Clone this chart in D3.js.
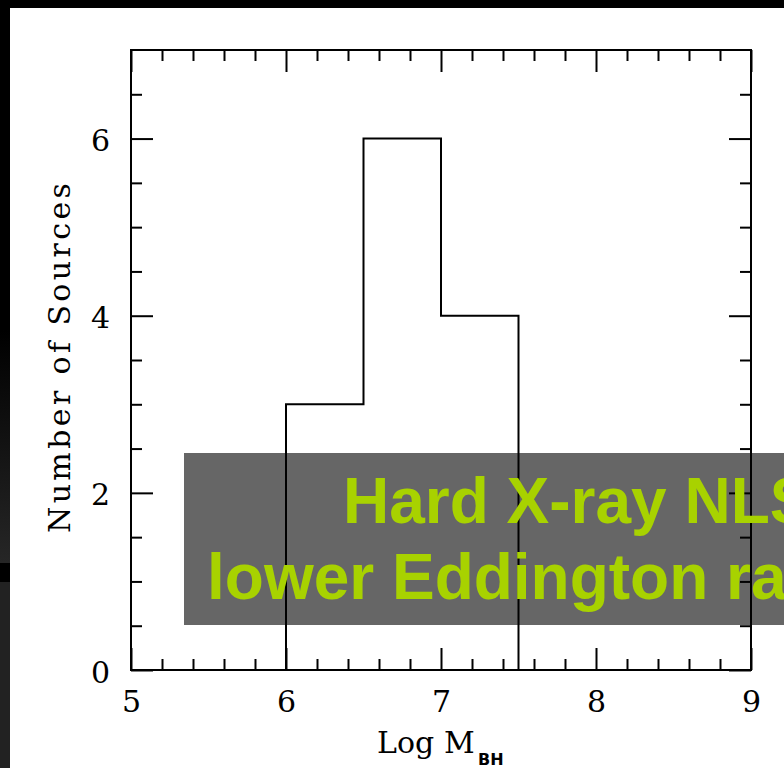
<!DOCTYPE html>
<html>
<head>
<meta charset="utf-8">
<script src="https://cdn.jsdelivr.net/npm/d3@7"></script>
<style>
  html, body { margin: 0; padding: 0; background: #000; }
  svg { display: block; }
</style>
</head>
<body>
<svg id="chart" width="784" height="768"></svg>
<script>
// Histogram of black-hole masses
const binStart = [6.0, 6.5, 7.0];
const binEnd   = [6.5, 7.0, 7.5];
const counts   = [3, 6, 4];

const xMajorTicks = [5, 6, 7, 8, 9];
const xMinorTicks = [5.2, 5.4, 5.6, 5.8, 6.2, 6.4, 6.6, 6.8, 7.2, 7.4, 7.6, 7.8, 8.2, 8.4, 8.6, 8.8];
const yMajorTicks = [0, 2, 4, 6];
const yMinorTicks = [0.5, 1, 1.5, 2.5, 3, 3.5, 4.5, 5, 5.5, 6.5];

const xTitle = "Log";
const xTitleMain = "M";
const xTitleSub = "BH";
const yTitle = "Number of Sources";
const bannerLines = ["Hard X-ray NLS", "lower Eddington ra"];

const svg = d3.select("#chart");

// slide backdrop
svg.append("rect").attr("x", 0).attr("y", 0).attr("width", 784).attr("height", 768).attr("fill", "#000");
const defs = svg.append("defs");
const grad = defs.append("linearGradient").attr("id", "edge").attr("x1", 0).attr("y1", 0).attr("x2", 0).attr("y2", 1);
grad.append("stop").attr("offset", "0%").attr("stop-color", "#000");
grad.append("stop").attr("offset", "100%").attr("stop-color", "#262626");
svg.append("rect").attr("x", 0).attr("y", 330).attr("width", 10).attr("height", 233).attr("fill", "url(#edge)");
svg.append("rect").attr("x", 0).attr("y", 582).attr("width", 10).attr("height", 186).attr("fill", "#222");
svg.append("rect").attr("x", 10).attr("y", 8).attr("width", 774).attr("height", 760).attr("fill", "#fff");

const plotLeft = 131, plotRight = 751, plotTop = 50, plotBottom = 670;
const x = d3.scaleLinear().domain([5, 9]).range([plotLeft, plotRight]);
const y = d3.scaleLinear().domain([0, 7]).range([plotBottom, plotTop]);

const serif = "DejaVu Serif";
const tickFont = 30;

function styleAxis(g) {
  g.select(".domain").remove();
  g.selectAll("line").attr("stroke", "#000").attr("stroke-width", 2);
  g.attr("font-family", serif).attr("font-size", tickFont);
  g.selectAll("text").attr("fill", "#000");
}

// minor ticks on all four sides
svg.append("g").attr("transform", `translate(0,${plotBottom})`)
  .call(d3.axisBottom(x).tickValues(xMinorTicks).tickSize(-11).tickFormat("")).call(styleAxis);
svg.append("g").attr("transform", `translate(0,${plotTop})`)
  .call(d3.axisTop(x).tickValues(xMinorTicks).tickSize(-11).tickFormat("")).call(styleAxis);
svg.append("g").attr("transform", `translate(${plotLeft},0)`)
  .call(d3.axisLeft(y).tickValues(yMinorTicks).tickSize(-11).tickFormat("")).call(styleAxis);
svg.append("g").attr("transform", `translate(${plotRight},0)`)
  .call(d3.axisRight(y).tickValues(yMinorTicks).tickSize(-11).tickFormat("")).call(styleAxis);

// major ticks with labels
svg.append("g").attr("transform", `translate(0,${plotBottom})`)
  .call(d3.axisBottom(x).tickValues(xMajorTicks).tickSize(-22).tickPadding(21).tickFormat(d3.format("d")))
  .call(styleAxis);
svg.append("g").attr("transform", `translate(0,${plotTop})`)
  .call(d3.axisTop(x).tickValues(xMajorTicks).tickSize(-22).tickFormat(""))
  .call(styleAxis);
svg.append("g").attr("transform", `translate(${plotLeft},0)`)
  .call(d3.axisLeft(y).tickValues(yMajorTicks).tickSize(-22).tickPadding(21).tickFormat(d3.format("d")))
  .call(styleAxis)
  .call(g => g.selectAll("text").attr("dy", "0.4em"));
svg.append("g").attr("transform", `translate(${plotRight},0)`)
  .call(d3.axisRight(y).tickValues(yMajorTicks).tickSize(-22).tickFormat(""))
  .call(styleAxis);

// frame
svg.append("rect")
  .attr("x", x(5)).attr("y", y(7))
  .attr("width", x(9) - x(5)).attr("height", y(0) - y(7))
  .attr("fill", "none").attr("stroke", "#000").attr("stroke-width", 2);

// histogram outline
const pts = [[binStart[0], 0]];
counts.forEach((c, i) => { pts.push([binStart[i], c]); pts.push([binEnd[i], c]); });
pts.push([binEnd[binEnd.length - 1], 0]);
svg.append("path")
  .attr("d", d3.line().x(d => x(d[0])).y(d => y(d[1]))(pts))
  .attr("fill", "none").attr("stroke", "#000").attr("stroke-width", 2);

// axis titles
const xt = svg.append("text")
  .attr("x", 377).attr("y", 753)
  .attr("font-family", serif).attr("font-size", 30).attr("fill", "#000");
xt.append("tspan").text(xTitle);
xt.append("tspan").attr("x", 444).text(xTitleMain);
svg.append("text")
  .attr("x", 478).attr("y", 765)
  .attr("font-family", "DejaVu Sans").attr("font-weight", "bold").attr("font-size", 16)
  .attr("fill", "#000").text(xTitleSub);

svg.append("text")
  .attr("transform", "translate(70,358) rotate(-90)")
  .attr("text-anchor", "middle")
  .attr("font-family", serif).attr("font-size", 30).attr("fill", "#000")
  .attr("textLength", 350).attr("lengthAdjust", "spacing")
  .text(yTitle);

// translucent banner
svg.append("rect")
  .attr("x", 184).attr("y", 453).attr("width", 620).attr("height", 172)
  .attr("fill", "#000").attr("fill-opacity", 0.6);
const bannerX = [343, 207];
const bannerY = [523, 599];
bannerLines.forEach((t, i) => {
  svg.append("text")
    .attr("x", bannerX[i]).attr("y", bannerY[i])
    .attr("font-family", "Liberation Sans, Arial, sans-serif")
    .attr("font-weight", "bold").attr("font-size", 64)
    .attr("fill", "#a8d200")
    .text(t);
});
</script>
</body>
</html>
